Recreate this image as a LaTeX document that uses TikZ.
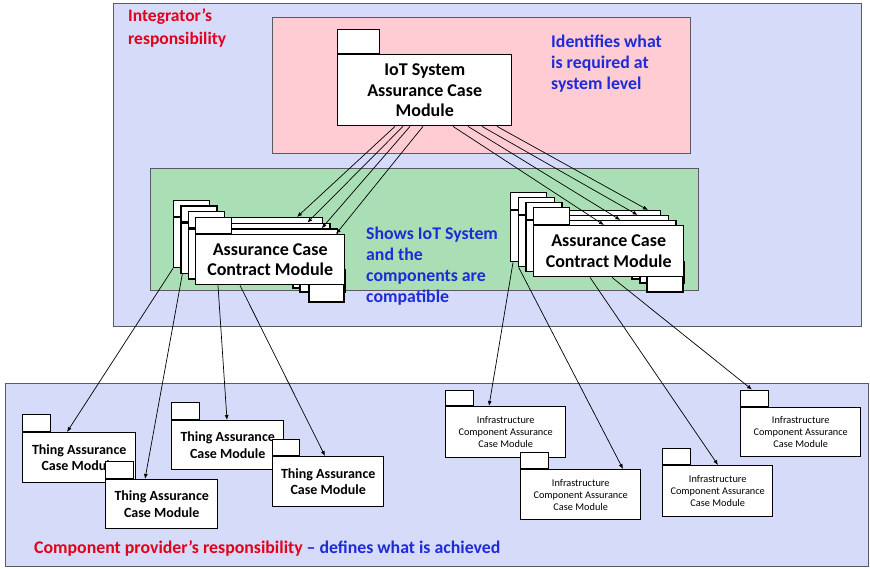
\documentclass[tikz,border=0pt]{standalone}
\usepackage{fontspec}
\setmainfont{Carlito}
\usetikzlibrary{arrows.meta}
\definecolor{frameblue}{HTML}{D5DBF9}
\definecolor{pinkzone}{HTML}{FFCCD3}
\definecolor{greenzone}{HTML}{AADFB6}
\definecolor{zoneedge}{HTML}{5A5A66}
\definecolor{labred}{HTML}{E3001B}
\definecolor{labblue}{HTML}{1E2BD6}
\tikzset{
  zone/.style={draw=zoneedge, line width=0.8pt, inner sep=0pt, anchor=north west},
  pkgbody/.style={draw=black, fill=white, line width=1.4pt, inner sep=0pt,
    align=center, anchor=north west},
  pkgtab/.style={draw=black, fill=white, line width=1.4pt, inner sep=0pt,
    anchor=south west},
  peek/.style={draw=black, fill=white, line width=1.1pt},
  link/.style={-{Latex[length=5pt,width=4pt]}, line width=0.7pt},
  note/.style={font=\bfseries\fontsize{17.8}{21}\selectfont, align=left,
    inner sep=0pt, anchor=north west},
  bigtxt/.style={font=\bfseries\fontsize{18}{20.5}\selectfont},
  thingtxt/.style={font=\bfseries\fontsize{14}{16.5}\selectfont},
  infratxt/.style={font=\fontsize{10.3}{12}\selectfont},
}
\begin{document}
\begin{tikzpicture}[x=1pt,y=-1pt]
\useasboundingbox (0,0) rectangle (870,568);
\fill[white] (0,0) rectangle (870,568);

% responsibility zones
\node[zone, fill=frameblue, minimum width=748pt, minimum height=323pt] (integ) at (113,3) {};
\node[zone, fill=pinkzone, minimum width=418pt, minimum height=136pt] (syszone) at (272,17) {};
\node[zone, fill=greenzone, minimum width=548pt, minimum height=122pt] (contractzone) at (150,168) {};
\node[zone, fill=frameblue, minimum width=863pt, minimum height=183pt] (provider) at (5,383) {};

% zone captions
\node[note, text=labred, font=\bfseries\fontsize{17.5}{23}\selectfont] (integlbl) at (128,9) {Integrator’s\\responsibility};
\node[note, text=labblue] (syslbl) at (551,35) {Identifies what\\is required at\\system level};
\node[note, text=labblue] (contractlbl) at (366,227) {Shows IoT System\\and the\\components are\\compatible};
\node[inner sep=0pt, anchor=west, font=\bfseries\fontsize{17.8}{20}\selectfont] (provlbl) at (34,548)
  {\textcolor{labred}{Component provider’s responsibility} \textcolor{labblue}{– defines what is achieved}};

% system-level module
\node[pkgbody, bigtxt, minimum width=174pt, minimum height=71pt] (iot) at (337,54)
  {IoT System\\Assurance Case\\Module};
\node[pkgtab, minimum width=42pt, minimum height=24pt] (iottab) at (iot.north west) {};

% left contract stack: lower edges showing behind the layers
\draw[peek] (293,270) rectangle (345,288);
\draw[peek] (300,270) rectangle (345,292);
\draw[peek] (309,270) rectangle (344,302);
\foreach \k in {0,1,2}{
  \node[pkgbody, minimum width=149pt, minimum height=50pt] (cl\k) at ({173+7.33*\k},{217+5.67*\k}) {};
  \node[pkgtab, minimum width=36pt, minimum height=16pt] (cltab\k) at (cl\k.north west) {};
}
\node[pkgbody, bigtxt, minimum width=149pt, minimum height=50pt] (cl3) at (195,234)
  {Assurance Case\\Contract Module};
\node[pkgtab, minimum width=36pt, minimum height=16pt] (cltab3) at (cl3.north west) {};

% right contract stack
\draw[peek] (632,262) rectangle (684,279);
\draw[peek] (640,262) rectangle (684,283);
\draw[peek] (647,262) rectangle (683,292);
\foreach \k in {0,1,2}{
  \node[pkgbody, minimum width=150pt, minimum height=51pt] (cr\k) at ({510+7.67*\k},{210+5*\k}) {};
  \node[pkgtab, minimum width=36pt, minimum height=17pt] (crtab\k) at (cr\k.north west) {};
}
\node[pkgbody, bigtxt, minimum width=150pt, minimum height=51pt] (cr3) at (533,225)
  {Assurance Case\\Contract Module};
\node[pkgtab, minimum width=36pt, minimum height=17pt] (crtab3) at (cr3.north west) {};

% thing modules
\node[pkgbody, thingtxt, minimum width=113pt, minimum height=50pt] (t1) at (22,432) {Thing Assurance\\Case Module};
\node[pkgtab, minimum width=28pt, minimum height=17pt] (ttab1) at (t1.north west) {};
\node[pkgbody, thingtxt, minimum width=112pt, minimum height=49pt] (t2) at (105,479) {Thing Assurance\\Case Module};
\node[pkgtab, minimum width=28pt, minimum height=17pt] (ttab2) at (t2.north west) {};
\node[pkgbody, thingtxt, minimum width=112pt, minimum height=49pt] (t3) at (171,420) {Thing Assurance\\Case Module};
\node[pkgtab, minimum width=28pt, minimum height=17pt] (ttab3) at (t3.north west) {};
\node[pkgbody, thingtxt, minimum width=111pt, minimum height=50pt] (t4) at (272,456) {Thing Assurance\\Case Module};
\node[pkgtab, minimum width=27pt, minimum height=16pt] (ttab4) at (t4.north west) {};

% infrastructure modules
\node[pkgbody, infratxt, minimum width=120pt, minimum height=51pt] (i1) at (445,406) {Infrastructure\\Component Assurance\\Case Module};
\node[pkgtab, minimum width=28pt, minimum height=15pt] (itab1) at (i1.north west) {};
\node[pkgbody, infratxt, minimum width=120pt, minimum height=50pt] (i2) at (520,469) {Infrastructure\\Component Assurance\\Case Module};
\node[pkgtab, minimum width=28pt, minimum height=16pt] (itab2) at (i2.north west) {};
\node[pkgbody, infratxt, minimum width=110pt, minimum height=51pt] (i3) at (662,465) {Infrastructure\\Component Assurance\\Case Module};
\node[pkgtab, minimum width=28pt, minimum height=16pt] (itab3) at (i3.north west) {};
\node[pkgbody, infratxt, minimum width=120pt, minimum height=49pt] (i4) at (740,407) {Infrastructure\\Component Assurance\\Case Module};
\node[pkgtab, minimum width=28pt, minimum height=16pt] (itab4) at (i4.north west) {};

% system module to contract layers
\draw[link] ([xshift=58pt]iot.south west) -- ([xshift=124pt]cl0.north west);
\draw[link] ([xshift=66pt]iot.south west) -- ([xshift=127pt]cl1.north west);
\draw[link] ([xshift=73pt]iot.south west) -- ([xshift=134pt]cl2.north west);
\draw[link] ([xshift=86pt]iot.south west) -- ([xshift=141pt]cl3.north west);
\draw[link] ([xshift=160pt]iot.south west) -- ([xshift=138pt]cr0.north west);
\draw[link] ([xshift=145pt]iot.south west) -- ([xshift=120pt]cr1.north west);
\draw[link] ([xshift=131pt]iot.south west) -- ([xshift=95pt]cr2.north west);
\draw[link] ([xshift=116pt]iot.south west) -- ([xshift=71pt]cr3.north west);

% contract layers to component modules
\draw[link] (cl0.south west) -- ([xshift=45pt]t1.north west);
\draw[link] ([xshift=2pt]cl1.south west) -- ([xshift=40pt]t2.north west);
\draw[link] ([xshift=23pt]cl3.south west) -- ([xshift=56pt]t3.north west);
\draw[link] ([xshift=45pt]cl3.south west) -- ([xshift=53pt]t4.north west);
\draw[link] ([xshift=3pt]cr0.south west) -- ([xshift=44pt]i1.north west);
\draw[link] ([xshift=1pt]cr1.south west) -- ([xshift=103pt]i2.north west);
\draw[link] ([xshift=57pt]cr3.south west) -- ([xshift=56pt]i3.north west);
\draw[link] ([xshift=79pt]cr3.south west) -- ([xshift=12pt]itab4.north west);
\end{tikzpicture}
\end{document}
